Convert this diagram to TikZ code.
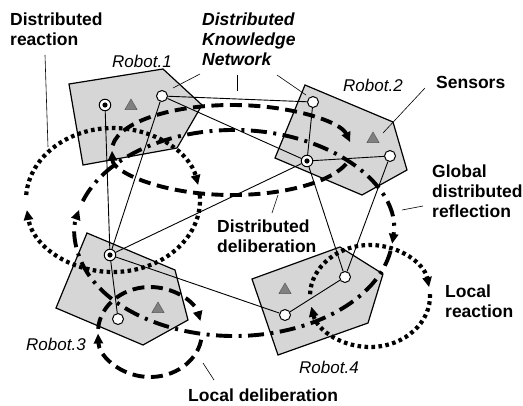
\documentclass[tikz,border=0pt]{standalone}
\usepackage{fontspec}
\setmainfont{Liberation Sans}
\usetikzlibrary{arrows.meta,shapes.geometric}
\pgfdeclarelayer{bg}
\pgfsetlayers{bg,main}
\begin{document}
\begin{tikzpicture}[x=1pt,y=-1pt,
  robot/.style={draw=black, fill=black!16, line width=1.2pt, line join=miter},
  wc/.style={circle, draw, fill=white, line width=1pt, minimum size=11pt, inner sep=0pt},
  tc/.style={circle, draw, fill=white, line width=1pt, minimum size=11.5pt, inner sep=0pt},
  sensor/.style={regular polygon, regular polygon sides=3, minimum size=14pt, inner sep=0pt,
     fill=black!50, draw=black!65, line width=0.5pt},
  link/.style={line width=0.9pt},
  pointer/.style={line width=0.6pt},
  dotloop/.style={line width=4.2pt, dash pattern=on 3.6pt off 3.4pt},
  dashloop/.style={line width=3.9pt, dash pattern=on 12pt off 6.5pt},
  dashdotloop/.style={line width=3.9pt, dash pattern=on 16pt off 6.5pt on 3pt off 6.5pt},
  tip/.style={-{Triangle[length=10pt,width=9pt]}},
  lbl/.style={font=\fontsize{17.5}{20}\selectfont\bfseries, align=left, inner sep=0pt, anchor=north west},
  ilbl/.style={font=\fontsize{17.5}{20}\selectfont\bfseries\itshape, align=left, inner sep=0pt, anchor=north west},
  rlbl/.style={font=\fontsize{17}{20}\selectfont\itshape, inner sep=0pt, anchor=base west}
]
\useasboundingbox (0,0) rectangle (523,405);

% ---- nodes of the robots
\node[tc] (t1) at (105,105) {};
\node[sensor] (s1) at (131,106) {};
\node[wc] (w1) at (162,96) {};

\node[wc] (w2a) at (313,102) {};
\node[sensor] (s2) at (373,139) {};
\node[tc] (t2) at (307,161) {};
\node[wc] (w2b) at (390,156) {};

\node[tc] (t3) at (110,255) {};
\node[sensor] (s3) at (158,309) {};
\node[wc] (w3) at (118,319) {};

\node[sensor] (s4) at (285,290) {};
\node[wc] (w4a) at (285,315) {};
\node[wc] (w4b) at (345,277) {};

\foreach \n in {t1,t2,t3} \fill (\n.center) circle (2.6pt);

% ---- labels
\node[lbl] (dr) at (10,12.5) {Distributed\\reaction};
\node[ilbl] (dkn) at (202,12.5) {Distributed\\Knowledge\\Network};
\node[rlbl] (r1) at (112,67) {Robot.1};
\node[rlbl] (r2) at (343,91) {Robot.2};
\node[lbl] (sen) at (436,76.5) {Sensors};
\node[lbl] (gdr) at (432,164.5) {Global\\distributed\\reflection};
\node[lbl] (dd) at (217,219.5) {Distributed\\deliberation};
\node[lbl] (lr) at (445,284.5) {Local\\reaction};
\node[rlbl] (r3) at (26,350) {Robot.3};
\node[rlbl] (r4) at (299,373) {Robot.4};
\node[lbl] (ld) at (188,388.5) {Local deliberation};

% pointer ends
\coordinate (pdr1) at (45,55);   \coordinate (pdr2) at (48,147);
\coordinate (pk1) at (200,74);   \coordinate (pk2) at (173,88);
\coordinate (pk3) at (237,75);   \coordinate (pk4) at (237,91);
\coordinate (pk5) at (277,75);   \coordinate (pk6) at (306,95);
\coordinate (ps1) at (425,88);   \coordinate (ps2) at (383,133);
\coordinate (pg1) at (423,206);  \coordinate (pg2) at (402,210);
\coordinate (pd1) at (278,195);  \coordinate (pd2) at (272,213);
\coordinate (pl1) at (203,363);  \coordinate (pl2) at (214,380);

\begin{pgfonlayer}{bg}
% robots
\draw[robot] (69,84) -- (163,69) -- (202,105) -- (177,148) -- (83,165) -- cycle;
\draw[robot] (305,85) -- (393,122) -- (407,170) -- (362,195) -- (275,158) -- cycle;
\draw[robot] (87,233) -- (175,270) -- (188,320) -- (143,345) -- (56,308) -- cycle;
\draw[robot] (252,279) -- (340,247) -- (383,274) -- (368,323) -- (278,355) -- cycle;

% knowledge network links
\draw[link] (w1) -- (w2a);
\draw[link] (w1) -- (t2);
\draw[link] (w1) -- (t3);
\draw[link] (t1) -- (t3);
\draw[link] (w2a) -- (t2);
\draw[link] (t2) -- (w2b);
\draw[link] (t2) -- (t3);
\draw[link] (t2) -- (w4b);
\draw[link] (w2b) -- (w4b);
\draw[link] (t3) -- (w3);
\draw[link] (t3) -- (w4a);
\draw[link] (w4a) -- (w4b);

% pointer lines
\draw[pointer] (pdr1) -- (pdr2);
\draw[pointer] (pk1) -- (pk2);
\draw[pointer] (pk3) -- (pk4);
\draw[pointer] (pk5) -- (pk6);
\draw[pointer] (ps1) -- (ps2);
\draw[pointer] (pg1) -- (pg2);
\draw[pointer] (pd1) -- (pd2);
\draw[pointer] (pl1) -- (pl2);

% distributed reaction (dotted)
\draw[dotloop,tip] (113,200) ++(184:87 and 72) arc[start angle=184,end angle=348,x radius=87,y radius=72];
\draw[dotloop,tip] (113,200) ++(-4:87 and 72) arc[start angle=-4,end angle=172,x radius=87,y radius=72];
% distributed deliberation (dashed)
\draw[dashloop,tip] (232,150) ++(186:120 and 45) arc[start angle=186,end angle=350,x radius=120,y radius=45];
\draw[dashloop,tip] (232,150) ++(18:120 and 45) arc[start angle=18,end angle=179,x radius=120,y radius=45];
% global distributed reflection (dash-dot)
\draw[dashdotloop,tip] (234,233) ++(198:159 and 103) arc[start angle=198,end angle=366,x radius=159,y radius=103];
\draw[dashdotloop,tip] (234,233) ++(10:159 and 103) arc[start angle=10,end angle=193,x radius=159,y radius=103];
% local deliberation (dashed)
\draw[dashloop,tip] (150,332) ++(184:52 and 45) arc[start angle=184,end angle=346,x radius=52,y radius=45];
\draw[dashloop,tip] (150,332) ++(10:52 and 45) arc[start angle=10,end angle=178,x radius=52,y radius=45];
% local reaction (dotted)
\draw[dotloop,tip] (370,296) ++(182:60 and 51) arc[start angle=182,end angle=350,x radius=60,y radius=51];
\draw[dotloop,tip] (370,296) ++(-2:60 and 51) arc[start angle=-2,end angle=168,x radius=60,y radius=51];
\end{pgfonlayer}
\end{tikzpicture}
\end{document}
